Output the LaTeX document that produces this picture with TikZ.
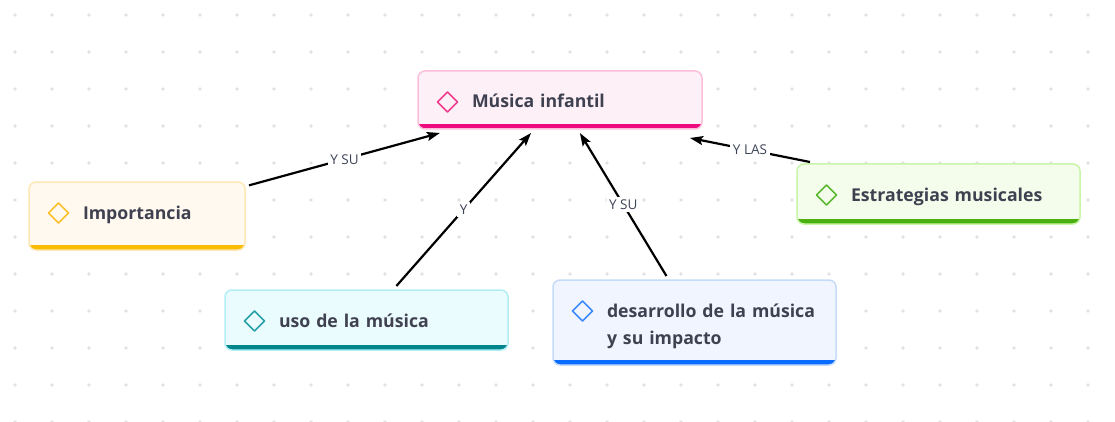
\documentclass[tikz,border=0pt]{standalone}
\usepackage{fontspec}
\setmainfont{Open Sans}
\usetikzlibrary{arrows.meta}
\definecolor{txt}{HTML}{3F4151}
\definecolor{lblc}{HTML}{3D4457}
\definecolor{dotc}{HTML}{E2E2E2}
\definecolor{pinkf}{HTML}{FDF0F7}
\definecolor{pinkb}{HTML}{FBBFDC}
\definecolor{pinkbar}{HTML}{EE0A7E}
\definecolor{pinkd}{HTML}{EF3D8F}
\definecolor{yelf}{HTML}{FFF9EF}
\definecolor{yelb}{HTML}{FDE7B4}
\definecolor{yelbar}{HTML}{FBBC04}
\definecolor{yeld}{HTML}{FBC02D}
\definecolor{tealf}{HTML}{EBFCFE}
\definecolor{tealb}{HTML}{B1EFF7}
\definecolor{tealbar}{HTML}{00868B}
\definecolor{teald}{HTML}{27A0A8}
\definecolor{bluef}{HTML}{F0F5FF}
\definecolor{blueb}{HTML}{C6DBF9}
\definecolor{bluebar}{HTML}{0A6CFF}
\definecolor{blued}{HTML}{3D8BFD}
\definecolor{grnf}{HTML}{F4FDEC}
\definecolor{grnb}{HTML}{C9F5A9}
\definecolor{grnbar}{HTML}{4CAF10}
\definecolor{grnd}{HTML}{5CB82F}
\tikzset{
 box/.style n args={4}{draw=#2, fill=#1, line width=1.5pt, rounded corners=7pt,
  anchor=north west, inner sep=0pt, outer sep=4pt, align=left, text=txt,
  font=\fontsize{17.7}{27}\selectfont\bfseries, text height=16pt,
  path picture={
   \fill[#3, sharp corners] (path picture bounding box.south west) rectangle ([yshift=5pt]path picture bounding box.south east);
   \draw[#4, sharp corners, line width=1.5pt, line join=round] ([shift={(29.5pt,-31pt)}]path picture bounding box.north west)
    +(-10pt,0pt) -- +(0pt,10pt) -- +(10pt,0pt) -- +(0pt,-10pt) -- cycle;}},
 conn/.style={line width=2.2pt, -{Stealth[length=13pt,width=9pt,inset=2.5pt]}},
 lbl/.style={fill=white, text=lblc, inner sep=2.5pt, font=\fontsize{13.5}{15}\selectfont}
}
\begin{document}
\begin{tikzpicture}[x=1pt,y=-1pt]
 \useasboundingbox (0,0) rectangle (1115,422);
 \fill[white] (0,0) rectangle (1115,422);
 \foreach \i in {0,...,29}
  \foreach \j in {0,...,11}
   \fill[dotc] (15+37*\i,15+37*\j) circle (1.8pt);

 \node[box={pinkf}{pinkb}{pinkbar}{pinkd}, text width=284pt, minimum height=58pt, text depth=0pt] (mus) at (414,67) {\hspace*{54pt}Música infantil};
 \node[box={yelf}{yelb}{yelbar}{yeld}, text width=216pt, minimum height=68pt, text depth=10pt] (imp) at (25,178) {\hspace*{54pt}Importancia};
 \node[box={tealf}{tealb}{tealbar}{teald}, text width=283pt, minimum height=60pt, text depth=2pt] (uso) at (221,286) {\hspace*{54pt}uso de la música};
 \node[box={bluef}{blueb}{bluebar}{blued}, text width=283pt, minimum height=85pt, text depth=27pt] (des) at (549,276) {\hspace*{54pt}desarrollo de la música\\\hspace*{54pt}y su impacto};
 \node[box={grnf}{grnb}{grnbar}{grnd}, text width=283pt, minimum height=60pt, text depth=2pt] (est) at (793,160) {\hspace*{54pt}Estrategias musicales};

 \draw[conn] (imp) -- node[lbl] (l1) {Y SU} (mus);
 \draw[conn] (uso) -- node[lbl] (l2) {Y} (mus);
 \draw[conn] (des) -- node[lbl] (l3) {Y SU} (mus);
 \draw[conn] ([xshift=17pt,yshift=-2pt]est.north west) -- node[lbl] (l4) {Y LAS} ([xshift=-16pt,yshift=-5pt]mus.south east);
\end{tikzpicture}
\end{document}
